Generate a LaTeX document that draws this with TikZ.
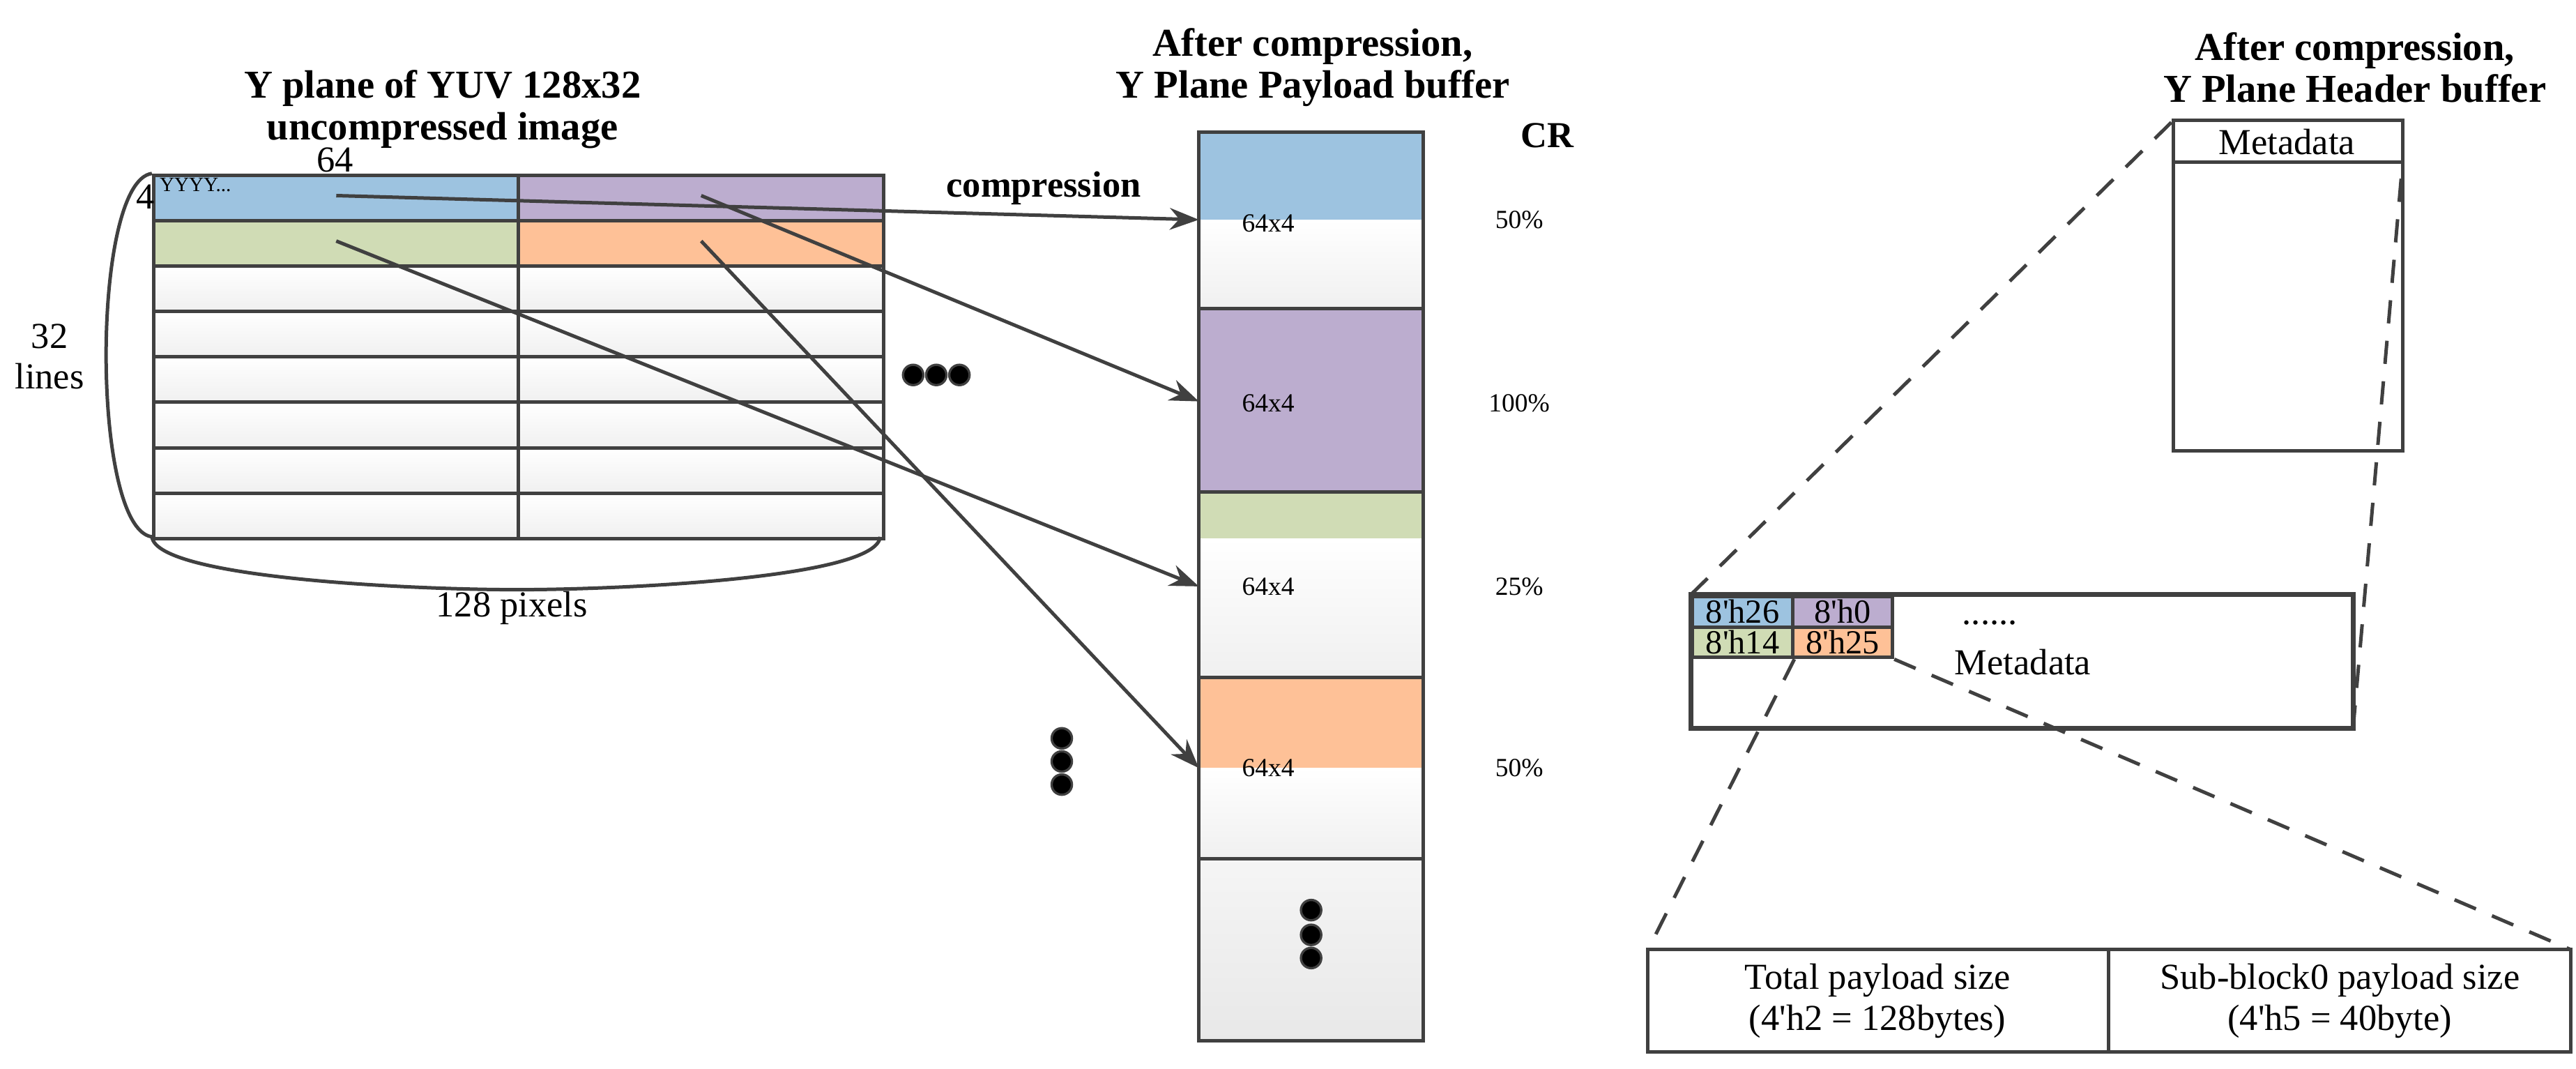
\documentclass[tikz,border=0pt]{standalone}
\usepackage{fontspec}
\setmainfont{Liberation Serif}
\usetikzlibrary{positioning,arrows.meta}
\definecolor{cblue}{HTML}{9DC3E0}
\definecolor{cpurple}{HTML}{BCADCF}
\definecolor{cgreen}{HTML}{D0DCB5}
\definecolor{corange}{HTML}{FEC197}
\definecolor{cline}{HTML}{404040}
\newcommand{\q}{\textquotesingle}
\tikzset{
  cell/.style={draw=cline,line width=0.6pt,minimum width=2.21cm,minimum height=0.275cm,inner sep=0pt,anchor=north west},
  plain/.style={top color=white,bottom color=black!6},
  ttl/.style={font=\bfseries\fontsize{6.8}{7.2}\selectfont,align=center},
  lbl/.style={font=\fontsize{6.3}{7}\selectfont,align=center},
  hcell/.style={cell,minimum width=0.605cm,minimum height=0.185cm,font=\fontsize{5.8}{6}\selectfont},
  small/.style={font=\fontsize{4.5}{5}\selectfont},
  conn/.style={draw=cline,line width=0.6pt,-{Stealth[length=5pt]}},
  zoomline/.style={draw=cline,line width=0.6pt,dash pattern=on 4pt off 3pt},
  dot/.style={circle,fill=black,draw=cline,inner sep=0pt,minimum size=3.5pt},
}
\begin{document}
\begin{tikzpicture}[x=0.01cm,y=-0.01cm]
  \useasboundingbox (0,0) rectangle (1560,647);
  % uncompressed image
  \node[ttl] at (268,66) {Y plane of YUV 128x32\\uncompressed image};
  \foreach \r in {2,...,7}{
    \node[cell,plain] (l\r) at (92,{105+27.5*\r}) {};
    \node[cell,plain] (r\r) at (313,{105+27.5*\r}) {};
  }
  \node[cell,fill=cblue] (l0) at (92,105) {};
  \node[cell,fill=cpurple] (r0) at (313,105) {};
  \node[cell,fill=cgreen] (l1) at (92,132.5) {};
  \node[cell,fill=corange] (r1) at (313,132.5) {};
  \node[lbl] (w64) at (203,97) {64};
  \node[lbl] (h4) at (88,119) {4};
  \node[small,anchor=west,inner sep=0pt,font=\fontsize{3.5}{4}\selectfont] (yyy) at (96,112) {YYYY...};
  \draw[cline,line width=0.6pt] (92,105) .. controls (55,110) and (55,320) .. (92,325);
  \draw[cline,line width=0.6pt] (92,325) .. controls (95,350) and (250,357) .. (313,357)
    .. controls (376,357) and (531,350) .. (533,325);
  \node[lbl] (lines) at (30,216) {32\\lines};
  \node[lbl] (pix) at (310,368) {128 pixels};
  \node[lbl,font=\bfseries\fontsize{6.3}{7}\selectfont] (comp) at (632,114) {compression};
  \foreach \x in {553,567,581} \node[dot] at (\x,227) {};
  % payload buffer
  \node[ttl] at (795,41) {After compression,\\Y Plane Payload buffer};
  \fill[cblue] (726,80) rectangle (862,133);
  \fill[plain] (726,133) rectangle (862,187);
  \fill[cpurple] (726,187) rectangle (862,298);
  \fill[cgreen] (726,298) rectangle (862,326);
  \fill[plain] (726,326) rectangle (862,410);
  \fill[corange] (726,410) rectangle (862,465);
  \fill[plain] (726,465) rectangle (862,520);
  \fill[top color=black!4,bottom color=black!9] (726,520) rectangle (862,630);
  \draw[cline,line width=0.6pt] (726,80) rectangle (862,630);
  \foreach \y in {187,298,410,520} \draw[cline,line width=0.6pt] (726,\y) -- (862,\y);
  \node[small] (p0) at (768,135) {64x4};
  \node[small] (p1) at (768,244) {64x4};
  \node[small] (p2) at (768,355) {64x4};
  \node[small] (p3) at (768,465) {64x4};
  \coordinate (a0) at (726,133);
  \coordinate (a1) at (726,243);
  \coordinate (a2) at (726,355);
  \coordinate (a3) at (726,465);
  \node[lbl,font=\bfseries\fontsize{6.3}{7}\selectfont] (cr) at (937,82) {CR};
  \node[small] at (920,133) {50\%};
  \node[small] at (920,244) {100\%};
  \node[small] at (920,355) {25\%};
  \node[small] at (920,465) {50\%};
  \foreach \y in {447,461,475} \node[dot] at (643,\y) {};
  \foreach \y in {551,566,580} \node[dot] at (794,\y) {};
  \draw[conn] ([yshift=0.4pt]l0.center) -- (a0);
  \draw[conn] ([yshift=0.4pt]r0.center) -- (a1);
  \draw[conn] ([yshift=0.4pt]l1.center) -- (a2);
  \draw[conn] ([yshift=0.4pt]r1.center) -- (a3);
  % header buffer
  \node[ttl] at (1426,41) {After compression,\\Y Plane Header buffer};
  \draw[cline,line width=0.6pt] (1316,73) rectangle (1455,273);
  \draw[cline,line width=0.6pt] (1316,98) -- (1455,98);
  \node[lbl] (meta) at (1385,86) {Metadata};
  \draw[cline,line width=0.8pt] (1024,360) rectangle (1425,441);
  \node[hcell,fill=cblue] (h0) at (1024,360) {8\q h26};
  \node[hcell,fill=cpurple] (h1) at (1084.5,360) {8\q h0};
  \node[hcell,fill=cgreen] (h2) at (1024,378.5) {8\q h14};
  \node[hcell,fill=corange] (h3) at (1084.5,378.5) {8\q h25};
  \node[lbl] at (1205,377) {......};
  \node[lbl] (meta2) at (1225,401) {Metadata};
  \draw[zoomline] (1024,360) -- (1316,73);
  \draw[zoomline] (1425,441) -- (1455,98);
  % bottom fields
  \draw[cline,line width=0.6pt] (998,575) rectangle (1557,637);
  \draw[cline,line width=0.6pt] (1277,575) -- (1277,637);
  \node[lbl] (tot) at (1137,606) {Total payload size\\(4\q h2 = 128bytes)};
  \node[lbl] (sub) at (1417,606) {Sub-block0 payload size\\(4\q h5 = 40byte)};
  \draw[zoomline] (h2.south east) -- (998,575);
  \draw[zoomline] (h3.south east) -- (1557,575);
\end{tikzpicture}
\end{document}
